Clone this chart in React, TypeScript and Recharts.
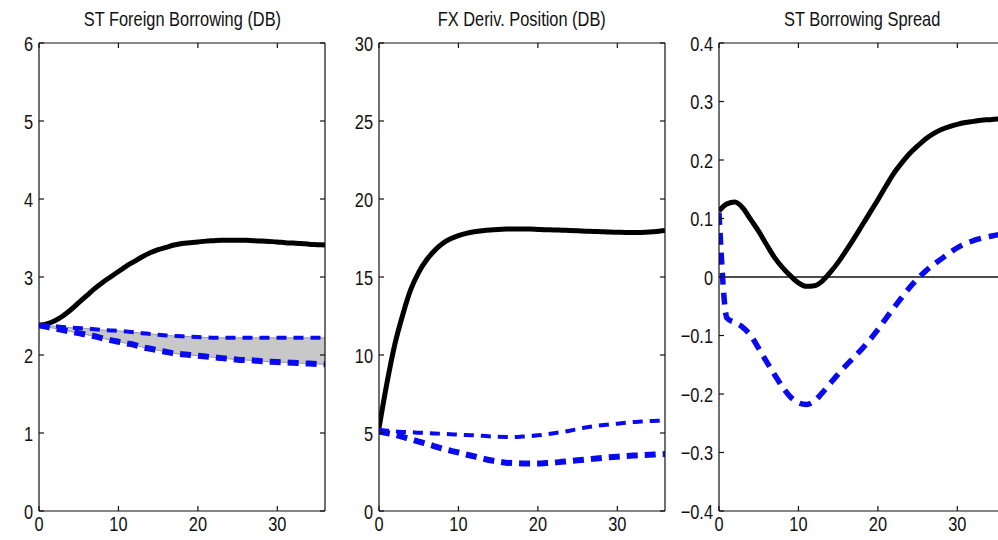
import React from 'react';
import { ComposedChart, Line, Area, XAxis, YAxis, ReferenceLine } from 'recharts';

// horizon (quarters)
const HORIZON = [0, 1, 2, 3, 4, 5, 6, 7, 8, 9, 10, 11, 12, 13, 14, 15, 16, 17, 18, 19, 20, 21, 22, 23, 24, 25, 26, 27, 28, 29, 30, 31, 32, 33, 34, 35, 36];
const X_TICKS = [0, 10, 20, 30];

// ST Foreign Borrowing (DB)
const borrowBase = [2.38, 2.4, 2.44, 2.5, 2.58, 2.67, 2.76, 2.85, 2.93, 3.0, 3.07, 3.14, 3.2, 3.26, 3.31, 3.35, 3.38, 3.41, 3.43, 3.44, 3.45, 3.46, 3.465, 3.47, 3.47, 3.47, 3.47, 3.465, 3.46, 3.455, 3.45, 3.44, 3.435, 3.43, 3.42, 3.415, 3.41];
const borrowHigh = [2.38, 2.375, 2.37, 2.36, 2.35, 2.345, 2.34, 2.33, 2.32, 2.315, 2.31, 2.3, 2.29, 2.28, 2.27, 2.26, 2.25, 2.245, 2.24, 2.235, 2.23, 2.225, 2.22, 2.22, 2.22, 2.22, 2.22, 2.22, 2.22, 2.22, 2.22, 2.22, 2.22, 2.22, 2.22, 2.22, 2.22];
const borrowLow = [2.38, 2.36, 2.34, 2.32, 2.3, 2.28, 2.26, 2.24, 2.215, 2.19, 2.17, 2.15, 2.13, 2.1, 2.08, 2.06, 2.04, 2.02, 2.01, 2.0, 1.99, 1.98, 1.97, 1.96, 1.95, 1.94, 1.935, 1.93, 1.92, 1.915, 1.91, 1.905, 1.9, 1.895, 1.89, 1.885, 1.88];
const borrowTicks = [0, 1, 2, 3, 4, 5, 6];

// FX Deriv. Position (DB)
const derivBase = [5.3, 8.2, 10.7, 12.6, 14.2, 15.3, 16.1, 16.7, 17.15, 17.45, 17.65, 17.8, 17.9, 17.97, 18.02, 18.05, 18.07, 18.08, 18.08, 18.07, 18.05, 18.03, 18.02, 18.0, 17.98, 17.96, 17.94, 17.92, 17.9, 17.88, 17.87, 17.86, 17.85, 17.86, 17.88, 17.92, 17.98];
const derivHigh = [5.2, 5.15, 5.1, 5.07, 5.05, 5.02, 5.0, 4.97, 4.95, 4.92, 4.9, 4.87, 4.85, 4.82, 4.78, 4.76, 4.75, 4.75, 4.77, 4.8, 4.85, 4.91, 4.98, 5.06, 5.15, 5.25, 5.35, 5.43, 5.5, 5.55, 5.6, 5.65, 5.7, 5.73, 5.76, 5.78, 5.8];
const derivLow = [5.1, 5.0, 4.9, 4.75, 4.6, 4.45, 4.3, 4.15, 4.0, 3.87, 3.75, 3.62, 3.5, 3.37, 3.25, 3.17, 3.1, 3.07, 3.05, 3.05, 3.05, 3.07, 3.1, 3.15, 3.2, 3.25, 3.3, 3.35, 3.4, 3.44, 3.48, 3.52, 3.55, 3.58, 3.6, 3.63, 3.65];
const derivTicks = [0, 5, 10, 15, 20, 25, 30];

// ST Borrowing Spread
const spreadBase = [0.113, 0.125, 0.128, 0.118, 0.098, 0.078, 0.055, 0.033, 0.016, 0.002, -0.01, -0.016, -0.015, -0.007, 0.008, 0.025, 0.045, 0.066, 0.088, 0.11, 0.132, 0.155, 0.177, 0.195, 0.211, 0.224, 0.236, 0.245, 0.252, 0.257, 0.261, 0.264, 0.266, 0.268, 0.269, 0.27, 0.27];
const spreadAlt = [0.11, -0.07, -0.078, -0.086, -0.1, -0.122, -0.145, -0.167, -0.188, -0.205, -0.215, -0.218, -0.212, -0.198, -0.182, -0.166, -0.151, -0.137, -0.123, -0.107, -0.09, -0.071, -0.053, -0.035, -0.018, -0.003, 0.01, 0.021, 0.031, 0.041, 0.05, 0.057, 0.062, 0.066, 0.069, 0.072, 0.074];
const spreadTicks = [-0.4, -0.3, -0.2, -0.1, 0, 0.1, 0.2, 0.3, 0.4];

const FONT = '"Liberation Sans", Arial, sans-serif';
const FONT_SIZE = 21;
const SQUEEZE = 0.78; // matlab export looks condensed
const BLUE = '#0a0af0';
const frame = { stroke: '#111', strokeWidth: 1.2 };

const fmtSpread = (v: number) => (v === 0 ? '0' : v.toFixed(1).replace('-', '\u2212'));

const noTick = () => <g />;

function NarrowTick(props: any) {
  const { x, y, payload, side, fmt } = props;
  const label = fmt ? fmt(payload.value) : String(payload.value);
  return (
    <text
      transform={`translate(${x},${y}) scale(${SQUEEZE},1)`}
      textAnchor={side === 'left' ? 'end' : 'middle'}
      dy={side === 'left' ? '0.36em' : '0.71em'}
      fill="#111"
      fontSize={FONT_SIZE}
      fontFamily={FONT}
    >
      {label}
    </text>
  );
}

type Panel = {
  title: string;
  left: number;
  width: number;
  yWidth: number;
  right: number;
  domain: [number, number];
  ticks: number[];
  fmt?: (v: number) => string;
  base: number[];
  high: number[];
  low?: number[];
  band?: boolean;
  zeroLine?: boolean;
};

const panels: Panel[] = [
  { title: 'ST Foreign Borrowing (DB)', left: 0, width: 340, yWidth: 39, right: 15, domain: [0, 6], ticks: borrowTicks, base: borrowBase, high: borrowHigh, low: borrowLow, band: true },
  { title: 'FX Deriv. Position (DB)', left: 340, width: 330, yWidth: 39, right: 5, domain: [0, 30], ticks: derivTicks, base: derivBase, high: derivHigh, low: derivLow },
  { title: 'ST Borrowing Spread', left: 670, width: 340, yWidth: 49, right: 5, domain: [-0.4, 0.4], ticks: spreadTicks, fmt: fmtSpread, base: spreadBase, high: spreadAlt, zeroLine: true },
];

function IrfPanel({ p }: { p: Panel }) {
  const data = HORIZON.map((x, i) => ({
    x,
    base: p.base[i],
    high: p.high[i],
    low: p.low ? p.low[i] : undefined,
    band: p.low ? [p.low[i], p.high[i]] : undefined,
  }));
  const plotW = p.width - p.yWidth - p.right;

  return (
    <div style={{ position: 'absolute', left: p.left, top: 0, width: p.width, height: 540 }}>
      <div
        style={{
          position: 'absolute', left: p.yWidth, top: 8, width: plotW, textAlign: 'center',
          fontFamily: FONT, fontSize: FONT_SIZE, lineHeight: '21px', color: '#111', whiteSpace: 'nowrap',
        }}
      >
        <span style={{ display: 'inline-block', transform: `scaleX(${SQUEEZE})` }}>{p.title}</span>
      </div>
      <ComposedChart width={p.width} height={540} data={data} margin={{ top: 43, right: p.right, bottom: 0, left: 0 }}>
        <XAxis xAxisId="b" dataKey="x" type="number" domain={[0, 36]} ticks={X_TICKS} interval={0} allowDataOverflow
          height={29} tickLine={false} tickSize={4} tickMargin={1} axisLine={frame}
          tick={<NarrowTick side="bottom" />} />
        <XAxis xAxisId="bi" type="number" domain={[0, 36]} ticks={X_TICKS} interval={0} allowDataOverflow
          orientation="bottom" mirror height={1} tick={noTick} tickSize={5} tickLine={frame} axisLine={false} />
        <XAxis xAxisId="t" type="number" domain={[0, 36]} ticks={X_TICKS} interval={0} allowDataOverflow
          orientation="top" mirror height={1} tick={noTick} tickSize={5} tickLine={frame} axisLine={frame} />
        <YAxis yAxisId="l" type="number" domain={p.domain} ticks={p.ticks} interval={0} allowDataOverflow
          width={p.yWidth} tickLine={false} tickSize={4} tickMargin={2} axisLine={frame}
          tick={<NarrowTick side="left" fmt={p.fmt} />} />
        <YAxis yAxisId="li" type="number" domain={p.domain} ticks={p.ticks} interval={0} allowDataOverflow
          mirror width={1} tick={noTick} tickSize={5} tickLine={frame} axisLine={false} />
        <YAxis yAxisId="r" type="number" domain={p.domain} ticks={p.ticks} interval={0} allowDataOverflow
          orientation="right" mirror width={1} tick={noTick} tickSize={5} tickLine={frame} axisLine={frame} />

        {p.zeroLine && <ReferenceLine xAxisId="b" yAxisId="l" y={0} stroke="#111" strokeWidth={1.6} />}
        {p.band && (
          <Area xAxisId="b" yAxisId="l" dataKey="band" type="monotone" fill="#c8c8c8" fillOpacity={1}
            stroke="#9a9a9a" strokeWidth={1} dot={false} activeDot={false} isAnimationActive={false} />
        )}
        <Line xAxisId="b" yAxisId="l" dataKey="base" type="monotone" stroke="#000" strokeWidth={5}
          dot={false} activeDot={false} isAnimationActive={false} />
        {p.low && (
          <Line xAxisId="b" yAxisId="l" dataKey="low" type="monotone" stroke={BLUE} strokeWidth={6}
            strokeDasharray="11 7" dot={false} activeDot={false} isAnimationActive={false} />
        )}
        <Line xAxisId="b" yAxisId="l" dataKey="high" type="monotone" stroke={BLUE}
          strokeWidth={p.low ? 4 : 5.5} strokeDasharray={p.low ? '10 7' : '12 8'}
          dot={false} activeDot={false} isAnimationActive={false} />
      </ComposedChart>
    </div>
  );
}

export default function App() {
  return (
    <div style={{ position: 'absolute', left: 0, top: 0, width: 998, height: 540, overflow: 'hidden', background: '#fff' }}>
      {panels.map((p) => (
        <IrfPanel key={p.title} p={p} />
      ))}
    </div>
  );
}
